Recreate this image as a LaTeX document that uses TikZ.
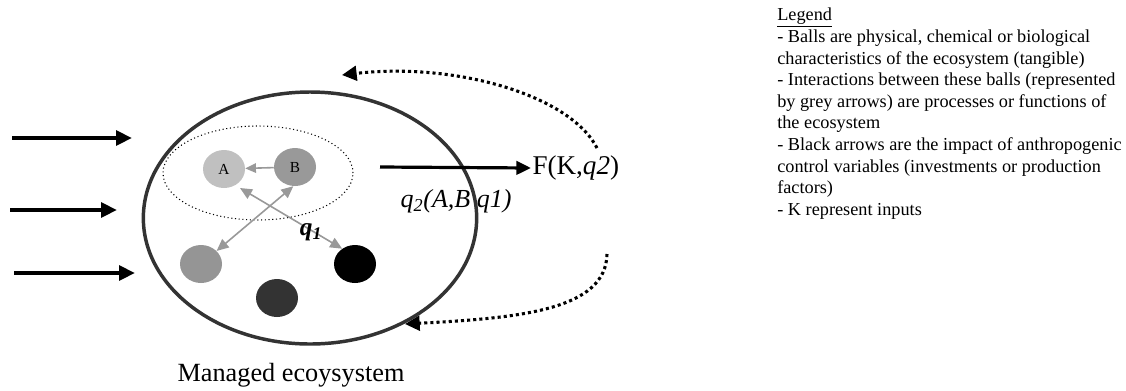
\documentclass[tikz,border=0pt]{standalone}
\usepackage{fontspec}
\setmainfont{Liberation Serif}
\usetikzlibrary{arrows.meta,shapes.geometric}
\definecolor{ringgray}{HTML}{333333}
\definecolor{linkgray}{HTML}{999999}
\definecolor{ballA}{HTML}{C0C0C0}
\definecolor{ballB}{HTML}{999999}
\definecolor{ballC}{HTML}{959595}
\definecolor{ballE}{HTML}{333333}
\tikzset{
  ball/.style={ellipse, minimum width=31.5pt, minimum height=28.5pt, inner sep=0pt, font=\fontsize{11.5}{12}\selectfont},
  garrow/.style={draw=linkgray, line width=1.2pt, -{Triangle[length=8pt,width=7pt]}},
  gdouble/.style={draw=linkgray, line width=1.2pt, {Triangle[length=9pt,width=8pt]}-{Triangle[length=9pt,width=8pt]}},
  inarrow/.style={line width=3pt, -{Triangle[length=12pt,width=11pt]}},
  outarrow/.style={line width=2.4pt, -{Triangle[length=11pt,width=10pt]}},
  fbarrow/.style={line width=2.3pt, dash pattern=on 2.3pt off 2.3pt, -{Triangle[length=11pt,width=11pt]}},
}
\begin{document}
\begin{tikzpicture}[x=0.75pt,y=-0.75pt]
\useasboundingbox (0,0) rectangle (1126,390);
% managed ecosystem
\node[ellipse, draw=ringgray, line width=2.6pt, minimum width=250pt, minimum height=189pt] (eco) at (310,218) {};
\node[ellipse, draw, dotted, line width=0.8pt, minimum width=142.5pt, minimum height=70.5pt] (grp) at (258,173) {};
% balls
\node[ball, fill=ballA] (A) at (224,169) {A};
\node[ball, fill=ballB] (B) at (295,167) {B};
\node[ball, fill=ballC] (C) at (201,264) {};
\node[ball, fill=black] (D) at (355,264) {};
\node[ball, fill=ballE] (E) at (277,298) {};
% grey interactions
\draw[garrow] (B) -- (A);
\draw[gdouble] (B.265) -- (C.40);
\draw[gdouble, shorten <=4pt] (A.-55) -- (D.130);
\node[font=\fontsize{19}{20}\selectfont\bfseries\itshape] (q1) at (311,232) {q\textsubscript{1}};
% input arrows
\coordinate (i1s) at (12,138); \coordinate (i1e) at (132,138);
\coordinate (i2s) at (10,210); \coordinate (i2e) at (117,210);
\coordinate (i3s) at (14,273); \coordinate (i3e) at (135,273);
\draw[inarrow] (i1s) -- (i1e);
\draw[inarrow] (i2s) -- (i2e);
\draw[inarrow] (i3s) -- (i3e);
% output
\node[anchor=west, inner sep=1pt, font=\fontsize{20.3}{22}\selectfont] (F) at (531,168) {F(K,\textit{q2})};
\coordinate (os) at (380,167);
\draw[outarrow] (os) -- (F.west);
\node[font=\fontsize{19.5}{22}\selectfont\itshape] (q2) at (456,201) {q\textsubscript{2}(A,B q1)};
% feedback
\coordinate (f1s) at (597,148); \coordinate (f1e) at (342,75);
\coordinate (f2s) at (607,254); \coordinate (f2e) at (405,324);
\draw[fbarrow] (f1s) .. controls (570,95) and (455,62) .. (f1e);
\draw[fbarrow] (f2s) .. controls (606,310) and (520,318) .. (f2e);
% caption
\node[font=\fontsize{19.7}{21}\selectfont] (cap) at (291,375) {Managed ecoysystem};
% legend
\node[anchor=north west, align=left, inner sep=0pt, font=\fontsize{13.7}{16.2}\selectfont] (leg) at (777,8) {\underline{Legend}\\
- Balls are physical, chemical or biological\\
characteristics of the ecosystem (tangible)\\
- Interactions between these balls (represented\\
by grey arrows) are processes or functions of\\
the ecosystem\\
- Black arrows are the impact of anthropogenic\\
control variables (investments or production\\
factors)\\
- K represent inputs};
\end{tikzpicture}
\end{document}
